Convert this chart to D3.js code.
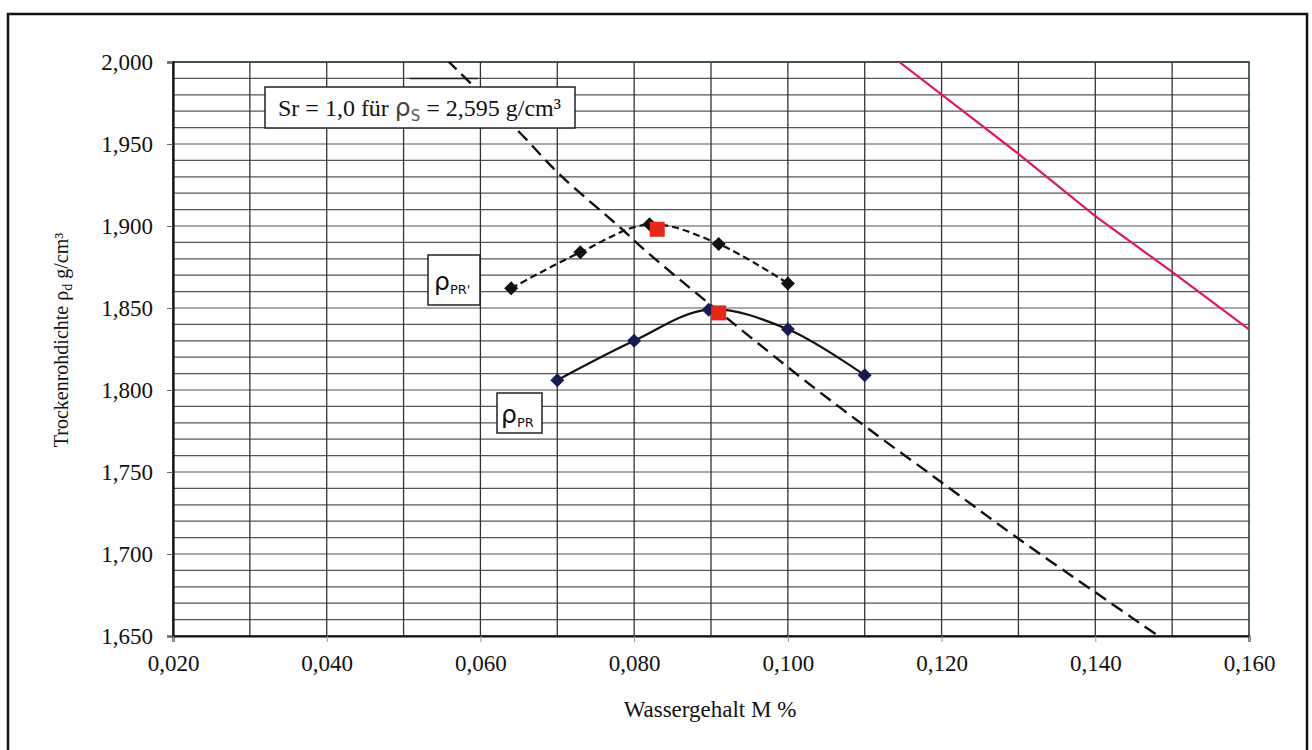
<!DOCTYPE html>
<html><head><meta charset="utf-8">
<script src="https://cdn.jsdelivr.net/npm/d3@7"></script>
<style>html,body{margin:0;padding:0;background:#fff;}svg{display:block;}</style>
</head><body>
<svg id="c" width="1312" height="750"></svg>
<script>
// ---- data ----
const xTicks = [0.02, 0.04, 0.06, 0.08, 0.10, 0.12, 0.14, 0.16];
const yTicks = [1.65, 1.70, 1.75, 1.80, 1.85, 1.90, 1.95, 2.00];
// rho_PR' (dashed, black diamonds)
const prPrimeW = [0.064, 0.073, 0.082, 0.091, 0.100];
const prPrimeD = [1.862, 1.884, 1.901, 1.889, 1.865];
const prPrimeMax = [0.083, 1.898];
// rho_PR (solid, navy diamonds)
const prW = [0.070, 0.080, 0.0897, 0.100, 0.110];
const prD = [1.806, 1.830, 1.849, 1.837, 1.809];
const prMax = [0.091, 1.847];
// saturation line Sr = 1,0 (dashed)
const satW = [0.0557, 0.0648, 0.0704, 0.0782, 0.0817, 0.1016, 0.1103, 0.1202, 0.1298, 0.1402, 0.1482];
const satD = [2.001, 1.9585, 1.931, 1.899, 1.884, 1.808, 1.777, 1.743, 1.710, 1.676, 1.650];
// red line
const redW = [0.1145, 0.130, 0.140, 0.150, 0.160];
const redD = [2.000, 1.944, 1.906, 1.872, 1.837];

const svg = d3.select('#c');
const L = 173, R = 1249, T = 62, B = 636;
const x = d3.scaleLinear().domain([0.02, 0.16]).range([L, R]);
const y = d3.scaleLinear().domain([1.65, 2.0]).range([B, T]);
const loc = d3.formatLocale({decimal: ',', thousands: '.', grouping: [3], currency: ['', '']});
const fmt = loc.format('.3f');
const serif = '"Liberation Serif","Times New Roman",serif';
const sans = '"DejaVu Sans","Liberation Sans",sans-serif';

// outer frame
svg.append('rect').attr('x', 8).attr('y', 14).attr('width', 1299).attr('height', 745)
  .attr('fill', 'none').attr('stroke', '#111').attr('stroke-width', 2.5);

// grid
const g = svg.append('g');
g.selectAll('line.h').data(d3.range(1.66, 2.0, 0.01)).join('line')
  .attr('x1', L).attr('x2', R).attr('y1', d => y(d)).attr('y2', d => y(d))
  .attr('stroke', '#555').attr('stroke-width', 1.2);
g.selectAll('line.v').data(d3.range(0.03, 0.16, 0.01)).join('line')
  .attr('y1', T).attr('y2', B).attr('x1', d => x(d)).attr('x2', d => x(d))
  .attr('stroke', '#333').attr('stroke-width', 1.3);
// darker leader segment near label
g.append('line').attr('x1', x(0.0508)).attr('x2', x(0.0597)).attr('y1', y(1.99)).attr('y2', y(1.99))
  .attr('stroke', '#222').attr('stroke-width', 1.5);

// plot border
svg.append('rect').attr('x', L).attr('y', T).attr('width', R - L).attr('height', B - T)
  .attr('fill', 'none').attr('stroke', '#2a3d38').attr('stroke-width', 1.6);

// axes
const yAxis = d3.axisLeft(y).tickValues(yTicks).tickFormat(fmt).tickSize(6).tickPadding(14);
const ya = svg.append('g').attr('transform', `translate(${L},0)`).call(yAxis);
ya.select('.domain').attr('stroke', '#111').attr('stroke-width', 2.2);
ya.selectAll('.tick line').attr('stroke', '#666');
ya.selectAll('text').attr('font-family', serif).attr('font-size', 23).attr('fill', '#111');

const xAxis = d3.axisBottom(x).tickValues(xTicks).tickFormat(fmt).tickSize(6).tickPadding(13);
const xa = svg.append('g').attr('transform', `translate(0,${B})`).call(xAxis);
xa.select('.domain').attr('stroke', '#111').attr('stroke-width', 2);
xa.selectAll('.tick line').attr('stroke', '#999');
xa.selectAll('text').attr('font-family', serif).attr('font-size', 23).attr('fill', '#111');

// axis titles
svg.append('text').attr('x', 710).attr('y', 717).attr('text-anchor', 'middle')
  .attr('font-family', serif).attr('font-size', 23).attr('fill', '#111').text('Wassergehalt M %');
const yt = svg.append('text').attr('transform', 'translate(68,340) rotate(-90)').attr('text-anchor', 'middle')
  .attr('font-family', serif).attr('font-size', 20).attr('fill', '#111');
yt.append('tspan').text('Trockenrohdichte ρ');
yt.append('tspan').attr('font-size', 14).attr('dy', 4).text('d');
yt.append('tspan').attr('dy', -4).text(' g/cm³');

// clip
svg.append('clipPath').attr('id', 'pc').append('rect').attr('x', L).attr('y', T).attr('width', R - L).attr('height', B - T);
const plot = svg.append('g').attr('clip-path', 'url(#pc)');

const line = d3.line().x(d => x(d[0])).y(d => y(d[1]));
const smooth = d3.line().x(d => x(d[0])).y(d => y(d[1])).curve(d3.curveCatmullRom.alpha(0.5));

// red line
plot.append('path').datum(d3.zip(redW, redD)).attr('d', line)
  .attr('fill', 'none').attr('stroke', '#e0185c').attr('stroke-width', 2.2);
// saturation line
plot.append('path').datum(d3.zip(satW, satD)).attr('d', smooth)
  .attr('fill', 'none').attr('stroke', '#111').attr('stroke-width', 2.4).attr('stroke-dasharray', '13,7');

// rho_PR'
svg.append('path').datum(d3.zip(prPrimeW, prPrimeD)).attr('d', smooth)
  .attr('fill', 'none').attr('stroke', '#111').attr('stroke-width', 2.2).attr('stroke-dasharray', '7,4');
// rho_PR
svg.append('path').datum(d3.zip(prW, prD)).attr('d', smooth)
  .attr('fill', 'none').attr('stroke', '#111').attr('stroke-width', 2.2);

const diamond = s => `M0,${-s}L${s},0L0,${s}L${-s},0Z`;
svg.selectAll('path.dk').data(d3.zip(prPrimeW, prPrimeD)).join('path')
  .attr('d', diamond(7)).attr('transform', d => `translate(${x(d[0])},${y(d[1])})`).attr('fill', '#111');
svg.selectAll('path.nv').data(d3.zip(prW, prD)).join('path')
  .attr('d', diamond(7)).attr('transform', d => `translate(${x(d[0])},${y(d[1])})`).attr('fill', '#161b55');
svg.selectAll('rect.mx').data([prPrimeMax, prMax]).join('rect')
  .attr('x', d => x(d[0]) - 7.5).attr('y', d => y(d[1]) - 7.5).attr('width', 15).attr('height', 15).attr('fill', '#e8261a');

// label boxes
const lb = svg.append('g');
lb.append('rect').attr('x', 265).attr('y', 87).attr('width', 310).attr('height', 41)
  .attr('fill', '#fff').attr('stroke', '#222').attr('stroke-width', 1.5);
const t1 = lb.append('text').attr('x', 278).attr('y', 116).attr('font-family', serif).attr('font-size', 24).attr('fill', '#111');
t1.append('tspan').text('Sr = 1,0 für ');
t1.append('tspan').attr('font-family', sans).attr('font-size', 25).attr('fill', '#444').text('ρ');
t1.append('tspan').attr('font-family', sans).attr('font-size', 15).attr('dy', 5).attr('fill', '#555').text('S');
t1.append('tspan').attr('dy', -5).text(' = 2,595 g/cm³');

lb.append('rect').attr('x', 428).attr('y', 255).attr('width', 52).attr('height', 50)
  .attr('fill', '#fff').attr('stroke', '#222').attr('stroke-width', 1.5);
const t2 = lb.append('text').attr('x', 434).attr('y', 290).attr('font-family', sans).attr('fill', '#111');
t2.append('tspan').attr('font-size', 25).text('ρ');
t2.append('tspan').attr('font-size', 13).attr('dy', 4).text("PR'");

lb.append('rect').attr('x', 497).attr('y', 393).attr('width', 45).attr('height', 40)
  .attr('fill', '#fff').attr('stroke', '#222').attr('stroke-width', 1.5);
const t3 = lb.append('text').attr('x', 501).attr('y', 423).attr('font-family', sans).attr('fill', '#111');
t3.append('tspan').attr('font-size', 25).text('ρ');
t3.append('tspan').attr('font-size', 13).attr('dy', 4).text('PR');
</script>
</body></html>
